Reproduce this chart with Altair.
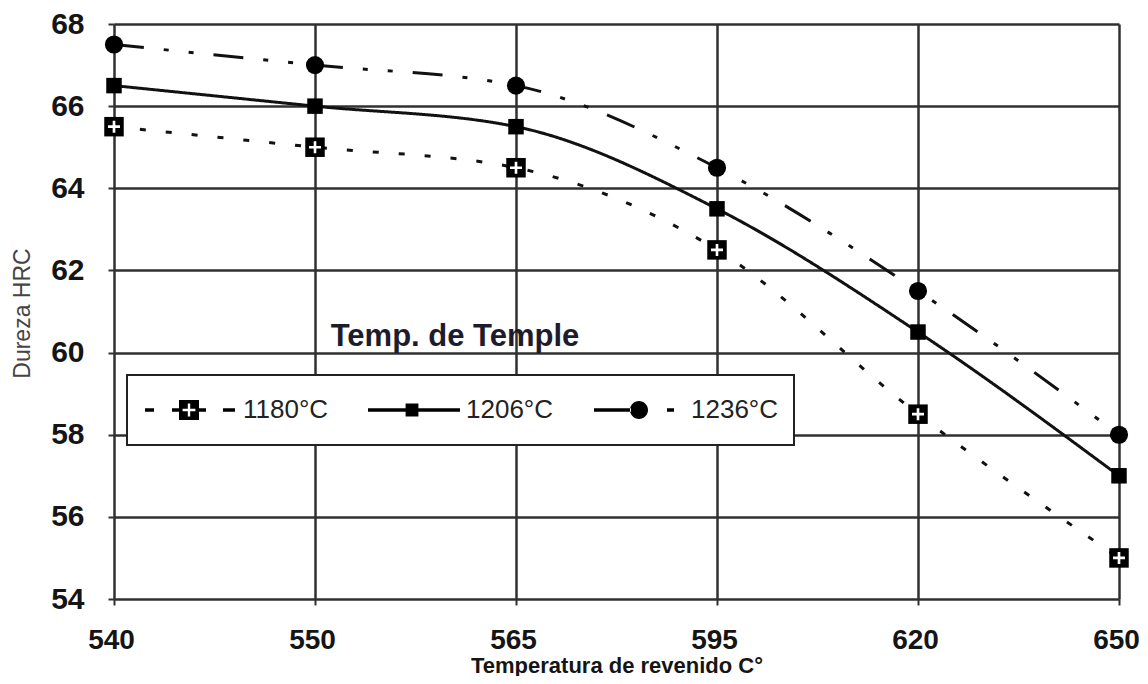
import altair as alt
import pandas as pd

# ---- data ----
temps = ["540", "550", "565", "595", "620", "650"]
series_names = ["1180°C", "1206°C", "1236°C"]
hrc_1180 = [65.5, 65.0, 64.5, 62.5, 58.5, 55.0]
hrc_1206 = [66.5, 66.0, 65.5, 63.5, 60.5, 57.0]
hrc_1236 = [67.5, 67.0, 66.5, 64.5, 61.5, 58.0]
y_ticks = [54, 56, 58, 60, 62, 64, 66, 68]
x_title = "Temperatura de revenido C°"
y_title = "Dureza HRC"
legend_title = "Temp. de Temple"

rows = []
for name, vals in zip(series_names, [hrc_1180, hrc_1206, hrc_1236]):
    for t, v in zip(temps, vals):
        rows.append({"temp": t, "hrc": v, "serie": name})
df = pd.DataFrame(rows)

SANS = "Liberation Sans, Arial"

# ---- legend symbols (line + marker) as custom paths, 1 unit = 20 px ----
h = 0.085
def seg(x0, x1):
    return f"M{x0},{-h}L{x1},{-h}L{x1},{h}L{x0},{h}Z"

extent = "M0,-1M0,1"   # invisible vertical extent for the legend row height
plus_hole = ("M-0.06,-0.32L-0.06,-0.06L-0.32,-0.06L-0.32,0.06L-0.06,0.06L-0.06,0.32"
             "L0.06,0.32L0.06,0.06L0.32,0.06L0.32,-0.06L0.06,-0.06L0.06,-0.32Z")
sym_1180 = (extent + seg(-2.2, -1.75) + seg(-0.85, -0.5) +
            "M-0.5,-0.5L0.5,-0.5L0.5,0.5L-0.5,0.5Z" + plus_hole +
            seg(0.5, 0.85) + seg(1.7, 2.3))
sym_1206 = extent + seg(-2.2, 2.4) + "M-0.32,-0.32L0.32,-0.32L0.32,0.32L-0.32,0.32Z"
sym_1236 = (extent + seg(-2.15, -0.3) +
            "M-0.35,0A0.45,0.45 0 1,0 0.55,0A0.45,0.45 0 1,0 -0.35,0Z" +
            seg(1.5, 1.85))

# thin white plus drawn inside the 1180 markers
thin_plus = ("M-1,-0.22L-0.22,-0.22L-0.22,-1L0.22,-1L0.22,-0.22L1,-0.22L1,0.22"
             "L0.22,0.22L0.22,1L-0.22,1L-0.22,0.22L-1,0.22Z")

GRID = "#303030"
x_enc = alt.X("temp:O", sort=temps,
              scale=alt.Scale(type="point", padding=0),
              axis=alt.Axis(title=x_title, labelAngle=0, grid=True,
                            gridColor=GRID, gridWidth=2.5, domain=False,
                            ticks=True, tickSize=6, tickColor=GRID, tickWidth=2,
                            labelFont=SANS, labelFontSize=28, labelFontWeight="bold",
                            labelColor="#151515", labelPadding=21, labelOffset=-3,
                            titleFont=SANS, titleFontSize=22, titleFontWeight="bold",
                            titleColor="#151515", titleY=66, titleBaseline="middle"))
y_enc = alt.Y("hrc:Q",
              scale=alt.Scale(domain=[54, 68], nice=False, zero=False),
              axis=alt.Axis(title=y_title, values=y_ticks, grid=True,
                            gridColor=GRID, gridWidth=2.5, domain=False,
                            ticks=True, tickSize=6, tickColor=GRID, tickWidth=2,
                            labelFont=SANS, labelFontSize=30, labelFontWeight="bold",
                            labelColor="#151515", labelPadding=24,
                            titleFont=SANS, titleFontSize=23, titleFontWeight="normal",
                            titleColor="#444", titleX=-92, titleY=289,
                            titleBaseline="middle"))

base = alt.Chart(df)

def line_for(name, dash):
    return base.transform_filter(alt.datum.serie == name).mark_line(
        interpolate="monotone", color="#111", strokeWidth=3, strokeDash=dash
    ).encode(x=x_enc, y=y_enc)

l1180 = line_for("1180°C", [6, 20])
l1206 = line_for("1206°C", [1, 0])
l1236 = line_for("1236°C", [30, 20, 5, 20, 5, 20])

m1180 = base.transform_filter(alt.datum.serie == "1180°C").mark_square(
    color="black", filled=True, size=380, opacity=1).encode(x=x_enc, y=y_enc)
m1180_plus = base.transform_filter(alt.datum.serie == "1180°C").mark_point(
    shape=thin_plus, color="white", filled=True, size=144, opacity=1,
    strokeWidth=0).encode(x=x_enc, y=y_enc)
m1206 = base.transform_filter(alt.datum.serie == "1206°C").mark_square(
    color="black", filled=True, size=240, opacity=1).encode(x=x_enc, y=y_enc)
m1236 = base.transform_filter(alt.datum.serie == "1236°C").mark_circle(
    color="black", size=330, opacity=1).encode(x=x_enc, y=y_enc)

legend_layer = base.mark_point(filled=True, color="black", opacity=0).encode(
    x=x_enc, y=y_enc,
    shape=alt.Shape("serie:N",
                    scale=alt.Scale(domain=series_names, range=[sym_1180, sym_1206, sym_1236]),
                    legend=alt.Legend(title=None, orient="none", legendX=13, legendY=351,
                                      direction="horizontal", columns=3, padding=15,
                                      symbolSize=1600, symbolOffset=27, labelOffset=34,
                                      columnPadding=36, fillColor="white",
                                      strokeColor="#222", symbolStrokeWidth=0,
                                      symbolFillColor="black", labelFont=SANS,
                                      labelFontSize=26, labelColor="#222", labelLimit=300)),
)

title_df = pd.DataFrame({"t": [legend_title]})
title_text = alt.Chart(title_df).mark_text(
    font=SANS, fontSize=31, fontWeight="bold", color="#1c1c2c", align="center",
    baseline="middle").encode(text="t:N", x=alt.value(341), y=alt.value(313))

chart = alt.layer(l1180, l1206, l1236, legend_layer, m1180, m1180_plus, m1206, m1236,
                  title_text).properties(
    width=1005, height=575,
    autosize=alt.AutoSizeParams(type="none"),
    padding={"left": 106, "top": 16, "right": 21, "bottom": 77},
).configure_view(stroke=None).configure_legend(strokeWidth=2)

chart.save("out.html", embed_options={"renderer": "svg", "actions": False})
